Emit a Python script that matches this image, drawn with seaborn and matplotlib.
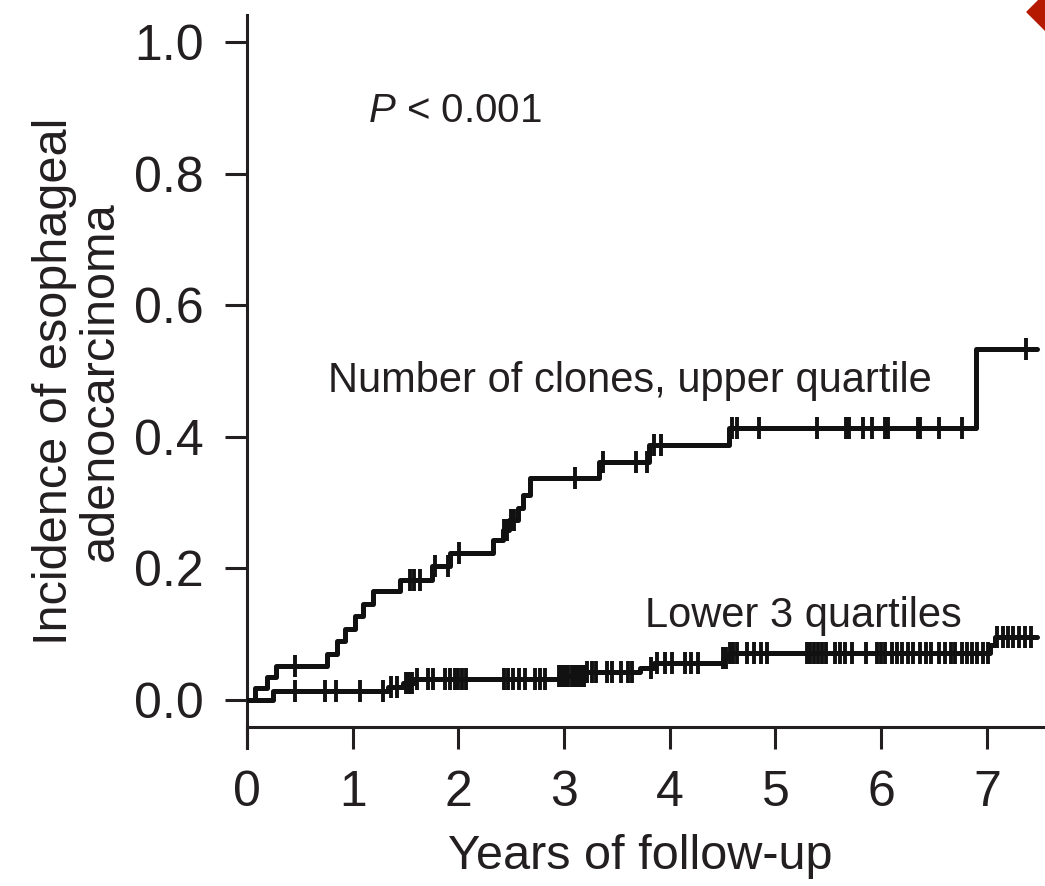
import numpy as np
import matplotlib
matplotlib.use("Agg")
import matplotlib.pyplot as plt
from matplotlib.patches import Polygon
import seaborn as sns

# step points of the two cumulative incidence curves (years, incidence)
upper_times = [0.0, 0.08, 0.19, 0.27, 0.76, 0.85, 0.93, 1.02, 1.10, 1.19, 1.45, 1.75,
               1.92, 2.33, 2.42, 2.48, 2.56, 2.61, 2.68, 3.33, 3.80, 4.56, 6.90, 7.47]
upper_inc = [0.0, 0.018, 0.035, 0.052, 0.070, 0.089, 0.108, 0.127, 0.146, 0.165, 0.183, 0.203,
             0.224, 0.243, 0.258, 0.274, 0.292, 0.312, 0.337, 0.362, 0.387, 0.414, 0.533, 0.533]

lower_times = [0.0, 0.25, 1.33, 1.48, 1.58, 2.95, 3.20, 3.72, 3.85, 4.50, 4.56, 7.03, 7.08, 7.47]
lower_inc = [0.0, 0.013, 0.019, 0.025, 0.032, 0.037, 0.042, 0.048, 0.056, 0.063, 0.071,
             0.083, 0.096, 0.096]

# censoring times
upper_censor = [0.45, 1.54, 1.58, 1.64, 1.78, 1.90, 2.01, 2.43, 2.46, 2.50, 2.53, 3.10, 3.37,
                3.68, 3.78, 3.85, 3.92, 4.59, 4.64, 4.84, 5.39, 5.67, 5.70, 5.83, 5.91, 6.04,
                6.06, 6.35, 6.37, 6.55, 6.76, 7.37]
lower_censor = [0.45, 0.74, 0.84, 1.07, 1.29, 1.36, 1.42, 1.50, 1.52, 1.54, 1.56, 1.61, 1.71,
                1.76, 1.87, 1.92, 1.97, 2.00, 2.03, 2.07, 2.43, 2.47, 2.52, 2.57, 2.63, 2.72,
                2.77, 2.82, 2.95, 2.98, 3.01, 3.04, 3.07, 3.10, 3.13, 3.16, 3.19, 3.22, 3.26,
                3.30, 3.41, 3.45, 3.54, 3.60, 3.64, 3.82, 3.88, 3.95, 4.02, 4.14, 4.20, 4.27,
                4.50, 4.53, 4.57, 4.60, 4.64, 4.73, 4.80, 4.86, 4.92, 5.30, 5.33, 5.36, 5.40,
                5.44, 5.48, 5.56, 5.61, 5.66, 5.72, 5.86, 5.96, 6.00, 6.04, 6.10, 6.15, 6.20,
                6.25, 6.30, 6.37, 6.42, 6.47, 6.55, 6.60, 6.66, 6.70, 6.76, 6.81, 6.86, 6.91,
                6.96, 7.01, 7.10, 7.15, 7.20, 7.25, 7.30, 7.36, 7.42]

x_ticks = [0, 1, 2, 3, 4, 5, 6, 7]
y_ticks = [0.0, 0.2, 0.4, 0.6, 0.8, 1.0]

sns.set_style("ticks")
plt.rcParams["font.family"] = ["Liberation Sans", "DejaVu Sans"]
plt.rcParams["mathtext.fontset"] = "custom"
plt.rcParams["mathtext.rm"] = "Liberation Sans"
plt.rcParams["mathtext.it"] = "Liberation Sans:italic"

INK = "#231f20"
LINE = "#111111"


def level_at(times, inc, t):
    # value of the step curve at time t
    idx = np.searchsorted(times, t, side="right") - 1
    return np.asarray(inc)[idx]


fig = plt.figure(figsize=(10.45, 8.86), dpi=100)
ax = fig.add_axes([0.2364, 0.1558, 0.7636, 0.8273])

for times, inc, cens in [(upper_times, upper_inc, upper_censor),
                         (lower_times, lower_inc, lower_censor)]:
    sns.lineplot(x=times, y=inc, ax=ax, drawstyle="steps-post", color=LINE,
                 linewidth=3.6, estimator=None, sort=False, zorder=3)
    ax.plot(cens, level_at(times, inc, cens), linestyle="none", marker="|",
            markersize=16, markeredgewidth=2.8, color=LINE, zorder=4)

ax.set_xlim(0, 7.55)
ax.set_ylim(-0.073, 1.041)
ax.set_xticks(x_ticks)
ax.set_yticks(y_ticks)
ax.set_xticklabels([str(v) for v in x_ticks])
ax.set_yticklabels([f"{v:.1f}" for v in y_ticks])

sns.despine(ax=ax)
ax.spines["bottom"].set_position(("data", -0.041))
for s in ["left", "bottom"]:
    ax.spines[s].set_linewidth(2.2)
    ax.spines[s].set_color(INK)
ax.tick_params(axis="both", direction="out", length=16, width=2.2, color=INK,
               labelsize=36, labelcolor=INK, pad=15)

ax.set_xlabel("Years of follow-up", fontsize=35, color=INK)
ax.xaxis.set_label_coords(0.4925, -0.118)
ax.set_ylabel("Incidence of esophageal\nadenocarcinoma", fontsize=35, color=INK,
              linespacing=1.05)
ax.yaxis.set_label_coords(-0.155, 0.5)

ax.text(0.766, 0.468, "Number of clones, upper quartile", fontsize=30, color=INK,
        va="baseline")
ax.text(3.77, 0.111, "Lower 3 quartiles", fontsize=30, color=INK, va="baseline")
ax.text(1.145, 0.878, "$P$ < 0.001", fontsize=29, color=INK, va="baseline")

# red corner mark, partly cut off by the figure edge
W, H = 1045, 886
diamond = [(1027, 12), (1052, -13), (1077, 12), (1052, 37)]
fig.patches.append(Polygon([(x / W, 1 - y / H) for x, y in diamond], closed=True,
                           transform=fig.transFigure, color="#b51a00", zorder=10))

fig.savefig("out.png", dpi=100)
